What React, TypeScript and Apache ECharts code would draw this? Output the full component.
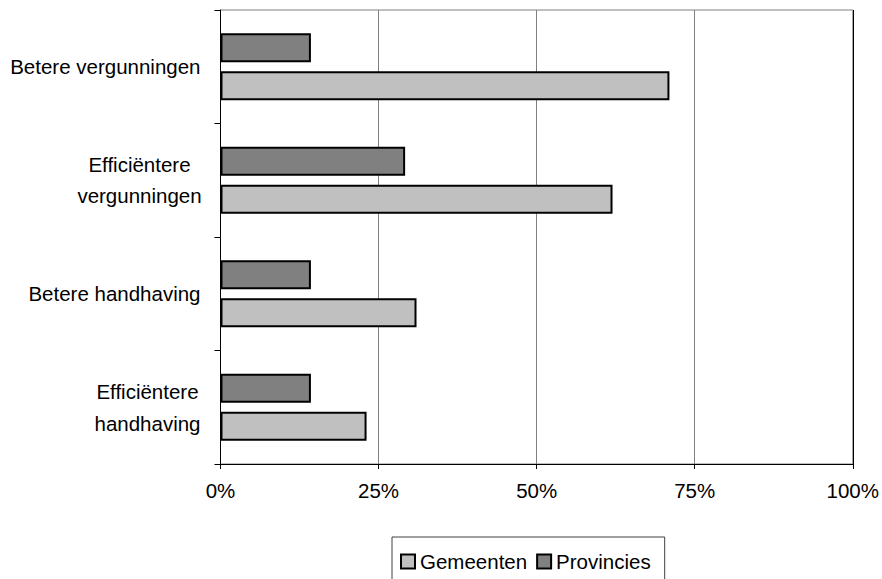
import React, { useEffect, useRef } from "react";
import * as echarts from "echarts";

// Categories listed bottom-to-top (ECharts category y axis starts at bottom)
const categories = [
  "Efficiëntere handhaving",
  "Betere handhaving",
  "Efficiëntere vergunningen",
  "Betere vergunningen",
];
const gemeenten = [23.1, 31.0, 62.0, 71.0];
const provincies = [14.3, 14.3, 29.2, 14.3];
const xTicks = [0, 25, 50, 75, 100];
const legendNames = ["Gemeenten", "Provincies"];

const FONT = "'Liberation Sans', Arial, sans-serif";
const FS = 20.5;

const labelText: Record<string, string> = {
  "Betere vergunningen": "{r|Betere vergunningen}",
  "Efficiëntere vergunningen": "{c1|Efficiëntere}\n{c1|vergunningen}",
  "Betere handhaving": "{r|Betere handhaving}",
  "Efficiëntere handhaving": "{c2|Efficiëntere}\n{c2|handhaving}",
};

export default function App() {
  const ref = useRef<HTMLDivElement>(null);
  useEffect(() => {
    document.body.style.margin = "0";
    if (!ref.current) return;
    const chart = echarts.init(ref.current, undefined, { renderer: "svg" });
    chart.setOption({
      animation: false,
      backgroundColor: "#ffffff",
      textStyle: { fontFamily: FONT, color: "#000" },
      grid: {
        left: 220.5,
        right: 28,
        top: 10,
        bottom: 115,
        show: true,
        borderColor: "#808080",
        borderWidth: 1,
      },
      xAxis: {
        type: "value",
        min: xTicks[0],
        max: xTicks[xTicks.length - 1],
        interval: 25,
        axisLine: { show: true, lineStyle: { color: "#000", width: 1 } },
        axisTick: { show: true, length: 5, lineStyle: { color: "#000" } },
        axisLabel: {
          formatter: "{value}%",
          fontSize: FS,
          color: "#000",
          fontFamily: FONT,
          margin: 16,
        },
        splitLine: {
          show: true,
          lineStyle: {
            color: ["#000", "#808080", "#808080", "#808080", "#000"],
            width: 1,
          },
        },
      },
      yAxis: {
        type: "category",
        data: categories,
        axisLine: { show: true, lineStyle: { color: "#000", width: 1 } },
        axisTick: { show: true, length: 6, lineStyle: { color: "#000" } },
        axisLabel: {
          fontSize: FS,
          color: "#000",
          fontFamily: FONT,
          margin: 20,
          formatter: (v: string) => labelText[v] ?? v,
          rich: {
            r: { fontSize: FS, fontFamily: FONT, color: "#000", lineHeight: 24 },
            c1: {
              fontSize: FS,
              fontFamily: FONT,
              color: "#000",
              width: 122,
              align: "center",
              lineHeight: 31,
            },
            c2: {
              fontSize: FS,
              fontFamily: FONT,
              color: "#000",
              width: 106,
              align: "center",
              lineHeight: 32,
            },
          },
        },
      },
      legend: {
        left: 392,
        top: 537,
        padding: [14, 14, 30, 8],
        borderColor: "#404040",
        borderWidth: 1,
        itemWidth: 14,
        itemHeight: 14,
        itemGap: 9,
        icon: "rect",
        textStyle: { fontSize: FS, color: "#000", fontFamily: FONT },
        data: legendNames,
      },
      series: [
        {
          name: "Provincies",
          type: "bar",
          data: provincies,
          barWidth: 29,
          barGap: "31%",
          itemStyle: { color: "#808080", borderColor: "#000", borderWidth: 2 },
        },
        {
          name: "Gemeenten",
          type: "bar",
          data: gemeenten,
          barWidth: 29,
          barGap: "31%",
          itemStyle: { color: "#c0c0c0", borderColor: "#000", borderWidth: 2 },
        },
      ],
    });
    return () => chart.dispose();
  }, []);
  return <div ref={ref} style={{ width: 882, height: 579 }} />;
}
